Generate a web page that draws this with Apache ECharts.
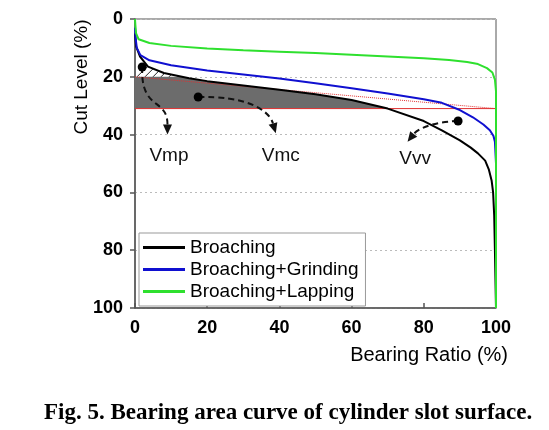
<!DOCTYPE html>
<html><head><meta charset="utf-8">
<script src="https://cdn.jsdelivr.net/npm/echarts@6/dist/echarts.min.js"></script>
<style>html,body{margin:0;padding:0;background:#fff}#c{width:549px;height:430px}</style>
</head><body><div id="c"></div>
<script>
// ---- data (Bearing Ratio %, Cut Level %) ----
var broaching = [[0,5],[0.3,9.5],[1.4,13],[3.6,16.5],[8,18.7],[15,20.5],[20,21.5],[30,23],[40,24.5],[50,26],[60,28],[70,31],[80,35.3],[85,38.5],[90,42],[93,44.5],[95,46.5],[97,49],[98,52],[98.8,56],[99.2,60],[99.5,68],[99.7,80],[100,100]];
var grinding  = [[0,3],[0.2,7],[0.5,10],[1.5,12.5],[4,14.3],[10,16],[20,17.8],[30,19.2],[40,20.6],[50,22.2],[60,24],[70,25.8],[80,27.8],[85,29],[90,31.5],[93.6,34],[96.5,36.5],[98.3,38.5],[99.3,40.5],[99.7,42.5],[100,50],[100,100]];
var lapping   = [[0,0],[0.1,2],[0.3,5],[1,7],[4,8.3],[10,9.3],[20,10.2],[30,10.8],[40,11.3],[50,11.8],[60,12.4],[70,13],[80,13.6],[87,14.2],[92,14.9],[95,15.6],[97.5,17],[99,18.5],[99.7,21],[100,25],[100,100]];
var seriesNames = ['Broaching','Broaching+Grinding','Broaching+Lapping'];
var xTicks = [0,20,40,60,80,100];
var yTicks = [0,20,40,60,80,100];
// cut levels and secant line
var cutUpper = 20, cutLower = 31;
var secantLine = [[0,20],[100,31]];
// annotations: dot, control points, arrow tip, label position (data coords)
var annNames = ['Vmp','Vmc','Vvv'];
var annDots   = [[2,16.6],[17.5,27],[89.5,35.3]];
var annCtrl1  = [[1.5,32],[30,26.5],[82,35.5]];
var annCtrl2  = [[9,27],[37,31]  ,[78,38.5]];
var annTips   = [[9,40],[39,39.5],[75.5,42.5]];
var annLabels = [[9.4,47.4],[40.4,47.4],[77.6,48.2]];

function interp(arr, x){
  for (var i=0;i<arr.length-1;i++){
    var a=arr[i], b=arr[i+1];
    if (x>=a[0] && x<=b[0]){ if(b[0]===a[0]) return a[1]; return a[1]+(b[1]-a[1])*(x-a[0])/(b[0]-a[0]); }
  }
  return arr[arr.length-1][1];
}
function crossX(arr, lvl){
  for (var i=0;i<arr.length-1;i++){
    var a=arr[i], b=arr[i+1];
    if ((a[1]-lvl)*(b[1]-lvl)<=0 && a[1]!==b[1]) return a[0]+(lvl-a[1])*(b[0]-a[0])/(b[1]-a[1]);
  }
  return 100;
}
var xUp = crossX(broaching, cutUpper), xLow = crossX(broaching, cutLower);

var chart = echarts.init(document.getElementById('c'), null, {renderer:'canvas'});

function renderRegions(params, api){
  var children = [];
  var pts = [];
  var xs = [0];
  broaching.forEach(function(p){ if(p[0]>0 && p[0]<xLow) xs.push(p[0]); });
  xs.push(xUp); xs.push(xLow);
  xs.sort(function(a,b){return a-b;});
  xs.forEach(function(x){ pts.push(api.coord([x, Math.max(interp(broaching,x), cutUpper)])); });
  pts.push(api.coord([xLow, cutLower]));
  pts.push(api.coord([0, cutLower]));
  children.push({type:'polygon', shape:{points:pts}, style:{fill:'#6c6c6c', stroke:null}});
  // hatched peak region
  var p0 = api.coord([0,cutUpper]), pUp = api.coord([xUp,cutUpper]);
  var pxPerUnit = (api.coord([100,0])[0]-p0[0]) / 100;
  for (var hx = p0[0]+2; hx < pUp[0]; hx += 8){
    var sx = hx, sy = p0[1];
    var ex = sx, ey = sy;
    for (var t=0;t<40;t+=0.5){
      var cx = sx + t, cy = sy - t;
      var xd = (cx - p0[0]) / pxPerUnit;
      var curveY = api.coord([xd, interp(broaching, xd)])[1];
      if (cy <= curveY) break;
      ex = cx; ey = cy;
    }
    children.push({type:'line', shape:{x1:sx,y1:sy,x2:ex,y2:ey}, style:{stroke:'#222', lineWidth:1}});
  }
  var a = api.coord([0,cutLower]), b = api.coord([100,cutLower]);
  children.push({type:'line', shape:{x1:a[0],y1:a[1],x2:b[0],y2:b[1]}, style:{stroke:'#e03030', lineWidth:1}});
  var s0 = api.coord(secantLine[0]), s1 = api.coord(secantLine[1]);
  children.push({type:'line', shape:{x1:s0[0],y1:s0[1],x2:s1[0],y2:s1[1]}, style:{stroke:'#e03030', lineWidth:1, lineDash:[1,1]}});
  return {type:'group', children:children};
}

function renderAnn(params, api){
  var children = [];
  for (var i=0;i<annNames.length;i++){
    var d = api.coord(annDots[i]), c1 = api.coord(annCtrl1[i]), c2 = api.coord(annCtrl2[i]), tp = api.coord(annTips[i]);
    var dx = tp[0]-c2[0], dy = tp[1]-c2[1], L = Math.sqrt(dx*dx+dy*dy); dx/=L; dy/=L;
    var ah = 10, aw = 4.5;
    var bx = tp[0]-dx*ah, by = tp[1]-dy*ah;
    children.push({type:'bezierCurve', shape:{x1:d[0],y1:d[1],cpx1:c1[0],cpy1:c1[1],cpx2:c2[0],cpy2:c2[1],x2:bx,y2:by},
      style:{stroke:'#111', lineWidth:2, lineDash:[6,4], fill:null}});
    children.push({type:'polygon', shape:{points:[[tp[0],tp[1]],[bx-dy*aw,by+dx*aw],[bx+dy*aw,by-dx*aw]]}, style:{fill:'#111'}});
    children.push({type:'circle', shape:{cx:d[0],cy:d[1],r:4.5}, style:{fill:'#000'}});
    var lp = api.coord(annLabels[i]);
    children.push({type:'text', x:lp[0], y:lp[1], style:{text:annNames[i], fill:'#111', font:'19px "Liberation Sans", Arial', align:'center', verticalAlign:'middle'}});
  }
  return {type:'group', children:children};
}

var lineColors = ['#000000','#1010d0','#2ee02e'];
chart.setOption({
  animation:false,
  title:{text:'Fig. 5. Bearing area curve of cylinder slot surface.', left:39, top:397,
    textStyle:{fontFamily:'"Liberation Serif","Times New Roman",serif', fontWeight:'bold', fontSize:23, color:'#000'}},
  grid:{left:135, right:53, top:19, bottom:122, show:true, borderColor:'#555', borderWidth:1, backgroundColor:'transparent'},
  legend:{orient:'vertical', left:139, top:233, data:seriesNames, itemWidth:42, itemHeight:3, itemGap:3,
    backgroundColor:'#fff', borderColor:'#999', borderWidth:1, padding:[5,7,5,4],
    textStyle:{fontSize:19, color:'#000', fontFamily:'"Liberation Sans", Arial'}, icon:'rect'},
  graphic:[
    {type:'text', x:82, y:77, rotation:Math.PI/2, style:{text:'Cut Level (%)', fill:'#000', font:'19px "Liberation Sans", Arial', align:'center', verticalAlign:'middle'}},
    {type:'text', x:508, y:355, style:{text:'Bearing Ratio (%)', fill:'#000', font:'20px "Liberation Sans", Arial', align:'right', verticalAlign:'middle'}}
  ],
  xAxis:{type:'value', min:0, max:100, interval:20,
    axisLine:{show:true, onZero:false, lineStyle:{color:'#555', width:1.5}},
    axisTick:{show:true, inside:true, length:5, lineStyle:{color:'#555', width:1.5}},
    axisLabel:{fontSize:18, fontWeight:'bold', color:'#000', margin:11, fontFamily:'"Liberation Sans", Arial'},
    splitLine:{show:false}},
  yAxis:{type:'value', inverse:true, min:0, max:100, interval:20,
    axisLine:{show:true, onZero:false, lineStyle:{color:'#555', width:1.5}},
    axisTick:{show:true, inside:false, length:5, lineStyle:{color:'#555', width:1.5}},
    axisLabel:{fontSize:18, fontWeight:'bold', color:'#000', margin:12, fontFamily:'"Liberation Sans", Arial'},
    splitLine:{show:true, lineStyle:{color:'#bbb', type:[2,3], width:1}}},
  series:[
    {type:'custom', name:'regions', renderItem:renderRegions, data:[[0,0]], z:1, silent:true, clip:true},
    {type:'line', name:seriesNames[0], data:broaching, symbol:'none', lineStyle:{color:lineColors[0], width:2}, itemStyle:{color:lineColors[0]}, z:3},
    {type:'line', name:seriesNames[1], data:grinding, symbol:'none', lineStyle:{color:lineColors[1], width:2}, itemStyle:{color:lineColors[1]}, z:3},
    {type:'line', name:seriesNames[2], data:lapping, symbol:'none', lineStyle:{color:lineColors[2], width:2}, itemStyle:{color:lineColors[2]}, z:3},
    {type:'custom', name:'ann', renderItem:renderAnn, data:[[0,0]], z:4, silent:true, clip:false}
  ]
});
</script>
</body></html>
